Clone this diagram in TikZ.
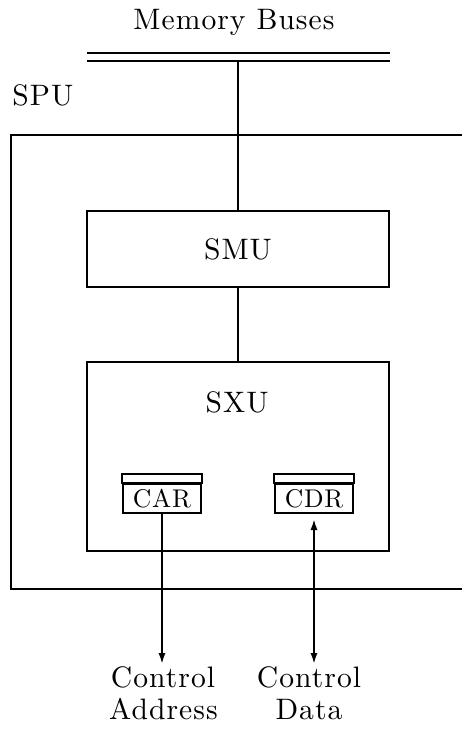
\documentclass[tikz,border=0pt]{standalone}
\usepackage{fontspec}
\newfontfamily\lbfont{lmroman10-regular.otf}[LetterSpace=3.5]
\newfontfamily\regfont{lmroman10-regular.otf}[LetterSpace=3]
\usetikzlibrary{arrows.meta}
\tikzset{
  ln/.style={line width=1pt},
  box/.style={draw, line width=1pt, rectangle, inner sep=0pt},
  lbl/.style={inner sep=0pt, font=\lbfont\fontsize{14.8}{16}\selectfont},
  reg/.style={font=\regfont\fontsize{12.8}{14}\selectfont},
  arr/.style={line width=1pt, -{Latex[length=5.5pt,width=3.6pt]}},
  darr/.style={line width=1pt, {Latex[length=5.5pt,width=3.6pt]}-{Latex[length=5.5pt,width=3.6pt]}}
}
\begin{document}
\begin{tikzpicture}[x=0.5pt,y=-0.5pt]
\useasboundingbox (0,0) rectangle (462,741);
% memory buses
\node[lbl, anchor=base] (mb) at (234,29) {Memory Buses};
\coordinate (bus1l) at (87,53);
\coordinate (bus1r) at (390,53);
\coordinate (bus2l) at (87,61);
\coordinate (bus2r) at (390,61);
\coordinate (busj) at (238,61);
\draw[ln] (bus1l) -- (bus1r);
\draw[ln] (bus2l) -- (bus2r);
% SPU frame (open on the right)
\node[lbl, anchor=base west] (spu) at (12,105) {SPU};
\coordinate (sputr) at (462,135);
\coordinate (sputl) at (11,135);
\coordinate (spubl) at (11,589);
\coordinate (spubr) at (462,589);
\draw[ln] (sputr) -- (sputl) -- (spubl) -- (spubr);
% SMU
\node[box, lbl, minimum width=151pt, minimum height=38pt] (smu) at (238,249) {SMU};
% SXU
\node[box, minimum width=151pt, minimum height=94.5pt] (sxu) at (238,456.5) {};
\node[lbl, anchor=base] (sxul) at (237,412) {SXU};
% connectors
\draw[ln] (busj) -- (smu.north);
\draw[ln] (smu.south) -- (sxu.north);
% registers
\node[box, reg, minimum width=39pt, minimum height=14.5pt] (car) at (162,498.5) {CAR};
\draw[ln] (car.north west) rectangle ([yshift=4.5pt]car.north east);
\node[box, reg, minimum width=39pt, minimum height=14.5pt] (cdr) at (314,498.5) {CDR};
\draw[ln] (cdr.north west) rectangle ([yshift=4.5pt]cdr.north east);
% outputs
\coordinate (ae) at (162,664);
\coordinate (de) at (314,664);
\draw[arr] (car.south) -- (ae);
\draw[darr, shorten <=2.5pt] (cdr.south) -- (de);
\node[lbl, anchor=base] (ca1) at (163,687) {Control};
\node[lbl, anchor=base] (ca2) at (163.5,719) {Address};
\node[lbl, anchor=base] (cd1) at (309,687) {Control};
\node[lbl, anchor=base] (cd2) at (309,719) {Data};
\end{tikzpicture}
\end{document}
